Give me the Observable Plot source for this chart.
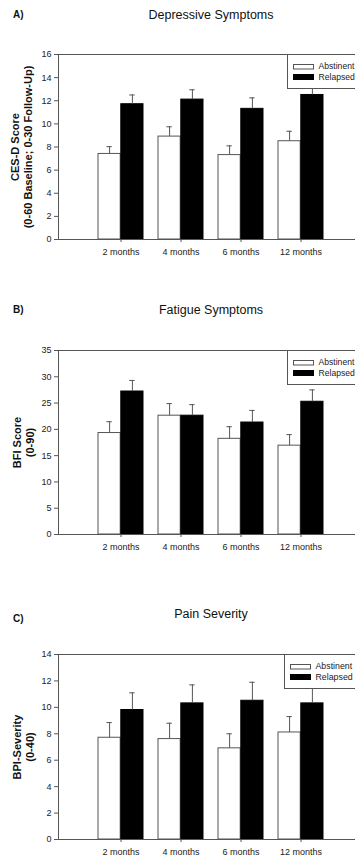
<!DOCTYPE html>
<html>
<head>
<meta charset="utf-8">
<script src="https://cdn.jsdelivr.net/npm/d3@7"></script>
<script src="https://cdn.jsdelivr.net/npm/@observablehq/plot@0.6"></script>
<style>
  html, body { margin: 0; padding: 0; background: white; }
  #wrap { position: relative; width: 355px; height: 859px; overflow: hidden; background: white; }
  #wrap > svg { position: absolute; left: 0; }
  #overlay { position: absolute; left: 0; top: 0; pointer-events: none; }
</style>
</head>
<body>
<div id="wrap"></div>
<script>
// ---- data ----
const months = ["2 months", "4 months", "6 months", "12 months"];
const groups = ["Abstinent", "Relapsed"];

const depAbst   = [7.4, 8.9, 7.3, 8.5];
const depAbstSE = [0.63, 0.85, 0.8, 0.86];
const depRel    = [11.7, 12.1, 11.3, 12.5];
const depRelSE  = [0.8, 0.85, 0.95, 0.9];

const fatAbst   = [19.3, 22.6, 18.2, 16.9];
const fatAbstSE = [2.15, 2.3, 2.3, 2.1];
const fatRel    = [27.2, 22.6, 21.3, 25.25];
const fatRelSE  = [2.1, 2.1, 2.3, 2.25];

const painAbst   = [7.7, 7.6, 6.9, 8.1];
const painAbstSE = [1.15, 1.2, 1.1, 1.2];
const painRel    = [9.8, 10.3, 10.5, 10.3];
const painRelSE  = [1.3, 1.4, 1.4, 1.3];

const depTicks  = [0, 2, 4, 6, 8, 10, 12, 14, 16];
const fatTicks  = [0, 5, 10, 15, 20, 25, 30, 35];
const painTicks = [0, 2, 4, 6, 8, 10, 12, 14];

const panels = [
  {letter: "A)", title: "Depressive Symptoms", top: 0, height: 280, mt: 54, mb: 41,
   yMax: 16, ticks: depTicks, abst: depAbst, abstSE: depAbstSE, rel: depRel, relSE: depRelSE,
   ylabel: "CES-D Score\n(0-60 Baseline; 0-30 Follow-Up)", ydx: -37,
   letterY: 18, titleY: 18.5, legendX: 287, legendFont: 8.6},
  {letter: "B)", title: "Fatigue Symptoms", top: 280, height: 290, mt: 70, mb: 36,
   yMax: 35, ticks: fatTicks, abst: fatAbst, abstSE: fatAbstSE, rel: fatRel, relSE: fatRelSE,
   ylabel: "BFI Score\n(0-90)", ydx: -35,
   letterY: 313, titleY: 313.5, legendX: 287, legendFont: 8.6},
  {letter: "C)", title: "Pain Severity", top: 570, height: 289, mt: 84, mb: 20,
   yMax: 14, ticks: painTicks, abst: painAbst, abstSE: painAbstSE, rel: painRel, relSE: painRelSE,
   ylabel: "BPI-Severity\n(0-40)", ydx: -35,
   letterY: 622, titleY: 617.5, legendX: 284, legendFont: 8.8}
];

const FONT = "'Liberation Sans', Arial, Helvetica, sans-serif";
const LINE = "#555";
const BW = 45.6, HALF = BW / 2, CAP = 3;

const wrap = document.getElementById("wrap");

for (const p of panels) {
  const data = months.map((m, i) => ({
    month: m,
    abst: p.abst[i], abstHi: p.abst[i] + p.abstSE[i],
    rel: p.rel[i], relHi: p.rel[i] + p.relSE[i]
  }));
  const chart = Plot.plot({
    width: 355, height: p.height,
    marginTop: p.mt, marginBottom: p.mb, marginLeft: 58, marginRight: 0,
    style: {fontFamily: FONT, fontSize: "9px", color: "#222", background: "white"},
    x: {type: "band", domain: months, range: [58.5, 362.5], paddingInner: 0.25, paddingOuter: 0.625},
    y: {domain: [0, p.yMax]},
    marks: [
      Plot.barY(data, {x: "month", y: "abst", fill: "white", stroke: LINE, strokeWidth: 1, insetLeft: 0, insetRight: HALF, insetTop: 0, insetBottom: 0}),
      Plot.barY(data, {x: "month", y: "rel", fill: "black", stroke: "black", strokeWidth: 1, insetLeft: HALF, insetRight: 0, insetTop: 0, insetBottom: 0}),
      Plot.ruleX(data, {x: "month", y1: "abst", y2: "abstHi", dx: -HALF / 2, stroke: LINE}),
      Plot.ruleX(data, {x: "month", y1: "rel", y2: "relHi", dx: HALF / 2, stroke: LINE}),
      Plot.tickY(data, {x: "month", y: "abstHi", stroke: LINE, insetLeft: HALF / 2 - CAP, insetRight: BW - HALF / 2 - CAP}),
      Plot.tickY(data, {x: "month", y: "relHi", stroke: LINE, insetLeft: HALF + HALF / 2 - CAP, insetRight: HALF / 2 - CAP}),
      Plot.frame({stroke: LINE, insetRight: -20}),
      Plot.axisY({ticks: p.ticks, tickSize: 4, tickPadding: 3, label: null, stroke: LINE, fontSize: 9}),
      Plot.axisX({tickSize: 3, tickPadding: 6, label: null, stroke: LINE, fontSize: 9}),
      Plot.text([p.ylabel], {frameAnchor: "left", dx: p.ydx, rotate: -90, textAnchor: "middle", lineAnchor: "middle",
        fontWeight: "bold", fontSize: 11, lineHeight: 1.18, fill: "#111"})
    ]
  });
  chart.style.top = p.top + "px";
  wrap.appendChild(chart);
}

// overlay: panel letters, titles, legends
const ov = d3.select(wrap).append("svg").attr("id", "overlay")
  .attr("width", 355).attr("height", 859)
  .style("font-family", FONT);

for (const p of panels) {
  ov.append("text").attr("x", 13).attr("y", p.letterY)
    .attr("font-size", 10).attr("font-weight", "bold").attr("fill", "#111").text(p.letter);
  ov.append("text").attr("x", 211).attr("y", p.titleY).attr("text-anchor", "middle")
    .attr("font-size", 12.5).attr("fill", "#111").text(p.title);

  const ly = p.top + p.mt;
  const lx = p.legendX;
  const g = ov.append("g");
  g.append("rect").attr("x", lx + 0.5).attr("y", ly + 0.5).attr("width", 120).attr("height", 34)
    .attr("fill", "white").attr("stroke", LINE);
  const sw = [{fill: "white", stroke: LINE, y: ly + 10.5, h: 4.5, ty: ly + 15},
              {fill: "black", stroke: "black", y: ly + 20.5, h: 5, ty: ly + 26}];
  groups.forEach((name, i) => {
    g.append("rect").attr("x", lx + 6.5).attr("y", sw[i].y).attr("width", 20).attr("height", sw[i].h)
      .attr("fill", sw[i].fill).attr("stroke", sw[i].stroke);
    g.append("text").attr("x", lx + 31.5).attr("y", sw[i].ty)
      .attr("font-size", p.legendFont).attr("fill", "#222").text(name);
  });
}
</script>
</body>
</html>
